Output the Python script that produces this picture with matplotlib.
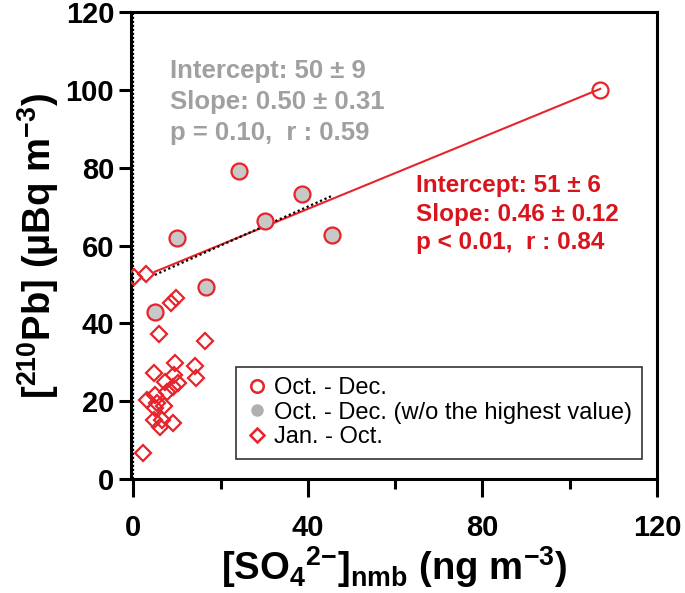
import matplotlib
matplotlib.use("Agg")
import matplotlib.pyplot as plt
import numpy as np

plt.rcParams['font.family'] = ['Liberation Sans', 'DejaVu Sans']
plt.rcParams['mathtext.fontset'] = 'custom'
plt.rcParams['mathtext.rm'] = 'Liberation Sans:bold'
plt.rcParams['mathtext.it'] = 'Liberation Sans:bold'
plt.rcParams['mathtext.bf'] = 'Liberation Sans:bold'
plt.rcParams['mathtext.default'] = 'rm'

# Oct. - Dec. (all), last one is the highest value
od_x = [24.3, 38.7, 30.2, 45.6, 9.9, 16.6, 4.9, 107.0]
od_y = [79.1, 73.3, 66.2, 62.8, 62.0, 49.4, 42.8, 100.0]

# Jan. - Oct.
jo_x = [0.2, 2.8, 8.6, 9.7, 5.9, 16.4, 9.5, 14.1, 4.8, 9.3, 14.3, 7.2, 10.3,
        9.1, 7.8, 4.9, 3.1, 5.5, 7.1, 4.9, 4.6, 6.5, 6.1, 9.1, 2.3]
jo_y = [52.0, 52.6, 45.3, 46.6, 37.3, 35.5, 29.7, 29.1, 27.3, 26.7, 25.9, 25.0, 24.6,
        23.6, 22.5, 21.6, 20.3, 19.6, 18.8, 18.2, 15.2, 15.2, 13.5, 14.4, 6.8]

fit_all = (51, 0.46)   # intercept, slope
fit_wo = (50, 0.50)

red = '#e8242b'
gray = '#b0b0b0'

fig = plt.figure(figsize=(6.85, 5.93), dpi=100)
ax = fig.add_axes([0.191, 0.192, 0.768, 0.788])

# regression lines
xa = np.array([min(od_x), max(od_x)])
ax.plot(xa, fit_all[0] + fit_all[1] * xa, color=red, lw=1.5, zorder=2)
xw = np.array([min(od_x[:-1]), max(od_x[:-1])])
ax.plot(xw, fit_wo[0] + fit_wo[1] * xw, color='black', lw=1.6, ls=(0, (1, 1.2)), zorder=2)

ax.axvline(0, color='black', lw=1.6, ls=(0, (1, 0.8)), zorder=1)

ax.plot(jo_x, jo_y, ls='none', marker='D', ms=8.5, mfc='none', mec=red, mew=1.6, zorder=3)
ax.plot(od_x[:-1], od_y[:-1], ls='none', marker='o', ms=11.5, mfc='#c8c8c8', mec='none', zorder=4)
ax.plot(od_x, od_y, ls='none', marker='o', ms=11.5, mfc='none', mec=red, mew=1.6, zorder=5)

# legend handles
h1, = ax.plot([], [], ls='none', marker='o', ms=9, mfc='none', mec=red, mew=1.8)
h2, = ax.plot([], [], ls='none', marker='o', ms=9, mfc=gray, mec='none')
h3, = ax.plot([], [], ls='none', marker='D', ms=7.5, mfc='none', mec=red, mew=1.8)
leg = ax.legend([h1, h2, h3], ['Oct. - Dec.', 'Oct. - Dec. (w/o the highest value)', 'Jan. - Oct.'],
                loc='lower right', bbox_to_anchor=(0.972, 0.044), fontsize=17, frameon=True,
                fancybox=False, edgecolor='black', handletextpad=0.25, labelspacing=0.1,
                borderpad=0.45, handlelength=0.9, borderaxespad=0)
leg.get_frame().set_linewidth(1.2)

ax.text(8.4, 108.0, 'Intercept: 50 \u00b1 9\nSlope: 0.50 \u00b1 0.31\np = 0.10,  r : 0.59',
        color='#a0a0a0', fontsize=18.5, fontweight='bold', va='top', ha='left', linespacing=1.38)
ax.text(64.8, 78.3, 'Intercept: 51 \u00b1 6\nSlope: 0.46 \u00b1 0.12\np < 0.01,  r : 0.84',
        color='#d8141c', fontsize=17.5, fontweight='bold', va='top', ha='left', linespacing=1.3)

ax.set_xlim(-0.6, 120)
ax.set_ylim(0, 120)
ax.set_xticks([0, 40, 80, 120])
ax.set_xticks([20, 60, 100], minor=True)
ax.set_yticks(np.arange(0, 121, 20))
ax.tick_params(which='major', axis='x', direction='out', length=13, width=2.2, labelsize=21, pad=12)
ax.tick_params(which='minor', axis='x', direction='out', length=7, width=2.2)
ax.tick_params(axis='y', direction='out', length=9, width=2.2, labelsize=21, pad=3)
for lab in ax.get_xticklabels() + ax.get_yticklabels():
    lab.set_fontweight('bold')
for s in ax.spines.values():
    s.set_linewidth(2.2)

ax.set_xlabel('[SO$_4{}^{2{-}}$]$_{nmb}$ (ng m$^{-3}$)', fontsize=27.5, fontweight='bold', labelpad=2)
ax.set_ylabel('[$^{210}$Pb] (\u00b5Bq m$^{-3}$)', fontsize=27.5, fontweight='bold', labelpad=3)

fig.savefig('out.png', dpi=100)
